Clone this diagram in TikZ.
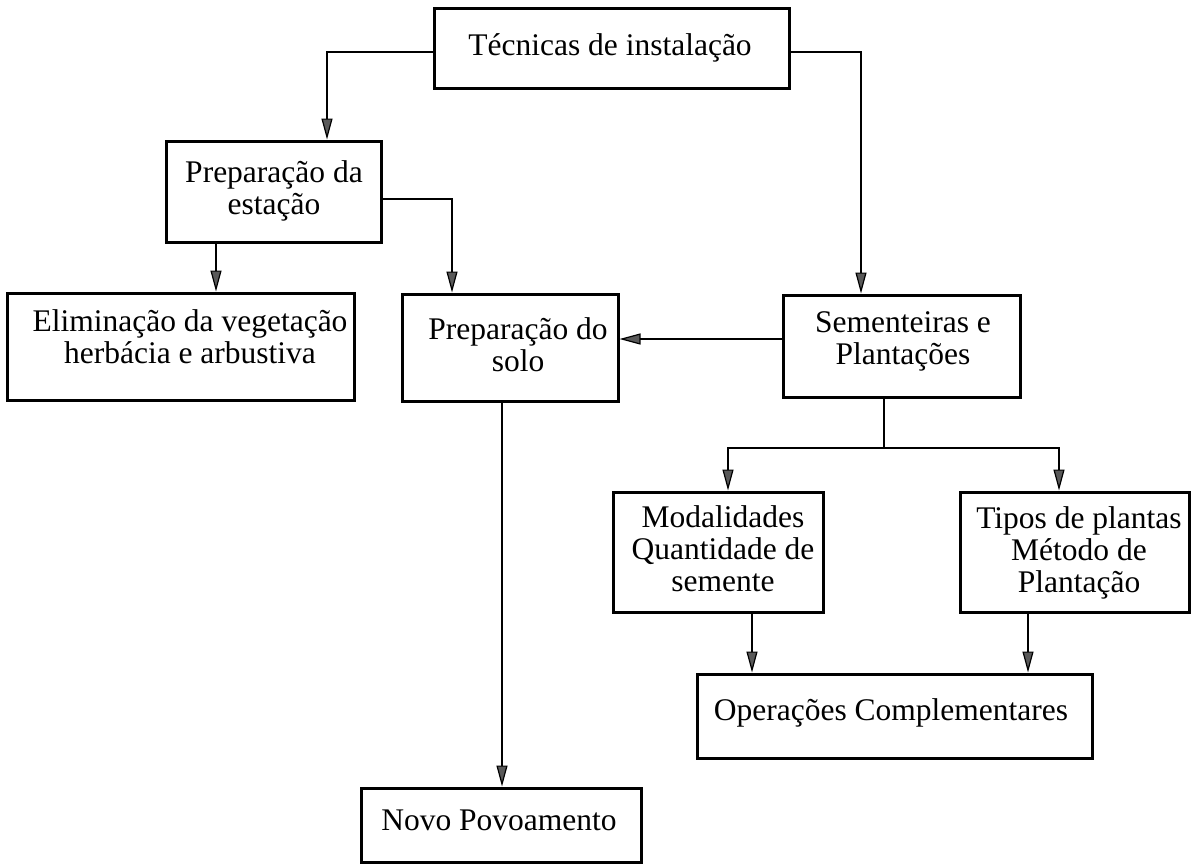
\documentclass[tikz,border=0pt]{standalone}
\usepackage{fontspec}
\setmainfont{Liberation Serif}
\usetikzlibrary{arrows.meta}
\begin{document}
\begin{tikzpicture}[x=1pt,y=-1pt,
  box/.style={draw=black, line width=3pt, rectangle, inner sep=0pt},
  txt/.style={inner sep=0pt, anchor=base, align=center,
    font=\fontsize{31.5}{32}\selectfont},
  arr/.style={draw=black, line width=2.5pt,
    -{Triangle[length=21pt,width=11pt,line width=1.2pt,fill=gray!70!black]}},
  conn/.style={draw=black, line width=2.5pt}]
\useasboundingbox (0,0) rectangle (1196,863);
% boxes
\node[box, minimum width=355, minimum height=80]  (top)      at (611.5,48) {};
\node[box, minimum width=215, minimum height=101] (prepEst)  at (273.5,191.5) {};
\node[box, minimum width=347, minimum height=107] (elim)     at (180.5,346.5) {};
\node[box, minimum width=216, minimum height=107] (prepSolo) at (510,347.5) {};
\node[box, minimum width=237, minimum height=102] (sem)      at (901.5,346) {};
\node[box, minimum width=210, minimum height=120] (mod)      at (718,552) {};
\node[box, minimum width=229, minimum height=120] (tipos)    at (1074.5,552) {};
\node[box, minimum width=395, minimum height=84]  (ops)      at (894.5,716) {};
\node[box, minimum width=280, minimum height=74]  (novo)     at (501,825) {};
% texts (anchor = baseline of the last line)
\node[txt] (tTop)   at (610,55)  {Técnicas de instalação};
\node[txt] (tPE)    at (274,214) {Preparação da\\estação};
\node[txt] (tEl)    at (190,363) {Eliminação da vegetação\\herbácia e arbustiva};
\node[txt] (tPS)    at (518,371) {Preparação do\\solo};
\node[txt] (tSem)   at (903,364) {Sementeiras e\\Plantações};
\node[txt] (tMod)   at (723,591) {Modalidades\\Quantidade de\\semente};
\node[txt] (tTip)   at (1079,592) {Tipos de plantas\\Método de\\Plantação};
\node[txt] (tOps)   at (891,720) {Operações Complementares};
\node[txt] (tNovo)  at (499,830) {Novo Povoamento};
% connectors
\draw[arr] ([yshift=-4pt]top.west) -| ([xshift=53.5pt]prepEst.north);
\draw[arr] ([yshift=-4pt]top.east) -| ([xshift=-40.5pt]sem.north);
\draw[arr] ([yshift=-7.5pt]prepEst.east) -| ([xshift=-58pt]prepSolo.north);
\draw[arr] ([xshift=-57.5pt]prepEst.south) -- ([xshift=35.5pt]elim.north);
\coordinate (sw) at ([yshift=7pt]sem.west);
\draw[arr] (sw) -- (prepSolo.east |- sw);
\coordinate (split) at (884,448);
\draw[conn] (sem.south -| split) -- (split);
\draw[arr] (split) -| ([xshift=10pt]mod.north);
\draw[arr] (split) -| ([xshift=-15.5pt]tipos.north);
\draw[arr] ([xshift=34pt]mod.south) -- ([xshift=-142.5pt]ops.north);
\draw[arr] ([xshift=-46.5pt]tipos.south) -- ([xshift=133.5pt]ops.north);
\draw[arr] ([xshift=-8pt]prepSolo.south) -- ([xshift=1pt]novo.north);
\end{tikzpicture}
\end{document}
